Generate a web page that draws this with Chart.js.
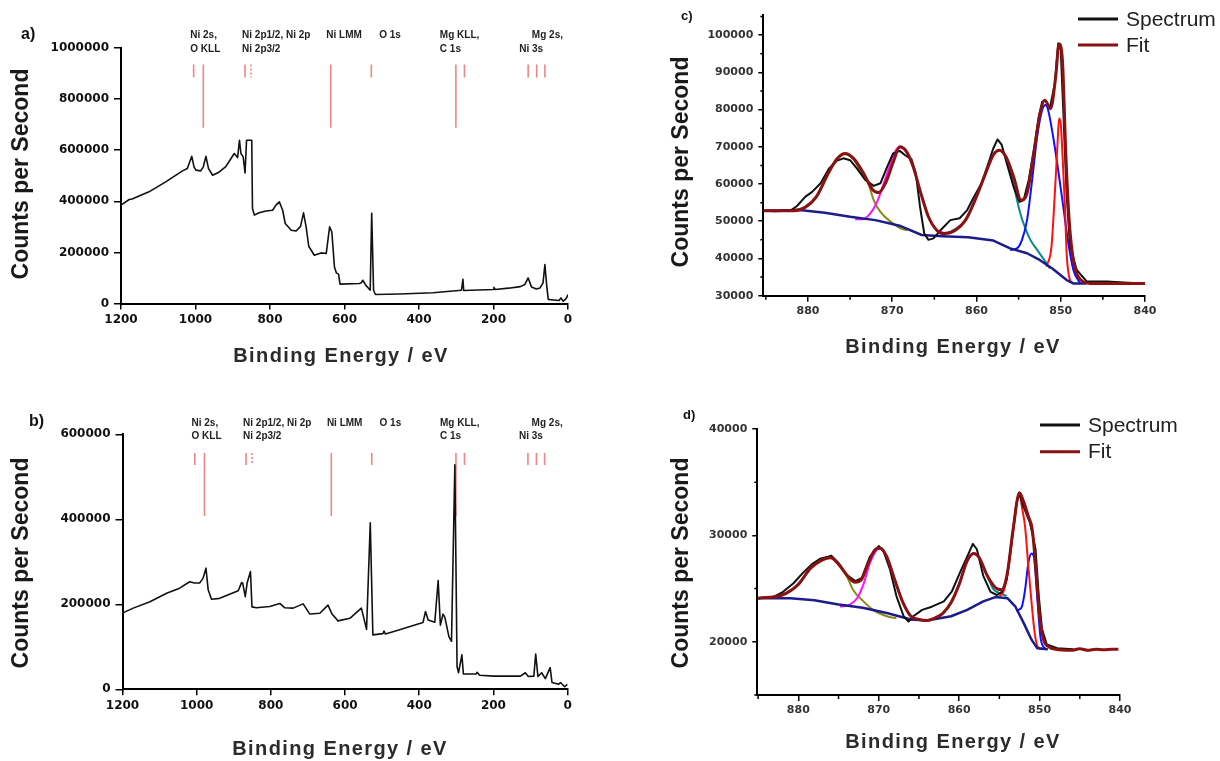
<!DOCTYPE html>
<html>
<head>
<meta charset="utf-8">
<title>XPS survey and Ni 2p spectra</title>
<script src="https://cdn.jsdelivr.net/npm/chart.js@4.4.1/dist/chart.umd.min.js"></script>
<style>
  html, body { margin: 0; padding: 0; background: #fff; }
  body { position: relative; width: 1220px; height: 761px; overflow: hidden; }
  canvas { position: absolute; }
</style>
</head>
<body>
<canvas id="panelA" width="600" height="385" style="left:0px;top:0px;width:600px;height:385px"></canvas>
<canvas id="panelB" width="600" height="376" style="left:0px;top:385px;width:600px;height:376px"></canvas>
<canvas id="panelC" width="600" height="385" style="left:620px;top:0px;width:600px;height:385px"></canvas>
<canvas id="panelD" width="600" height="376" style="left:620px;top:385px;width:600px;height:376px"></canvas>
<script>
// ---- tick labels ----
const surveyEnergyTicks = [1200, 1000, 800, 600, 400, 200, 0];
const surveyCountTicksA = [0, 200000, 400000, 600000, 800000, 1000000];
const surveyCountTicksB = [0, 200000, 400000, 600000];
const ni2pEnergyTicks = [880, 870, 860, 850, 840];
const ni2pCountTicksC = [30000, 40000, 50000, 60000, 70000, 80000, 90000, 100000];
const ni2pCountTicksD = [20000, 30000, 40000];

// ---- survey spectra: [binding energy (eV), counts per second] ----
const surveyA = [
  [1200,385000],[1178,407000],[1170,409000],[1125,437000],[1080,476000],[1035,519000],[1022,528000],
  [1010,576000],[1004,535000],[999,522000],[986,519000],[979,535000],[972,576000],[965,528000],
  [954,502000],[936,515000],[918,537000],[896,587000],[887,571000],[882,639000],[878,587000],
  [872,574000],[867,511000],[863,639000],[849,639000],[847,372000],[842,346000],[829,355000],
  [811,362000],[793,365000],[784,385000],[775,398000],[766,365000],[759,313000],[743,287000],
  [730,284000],[718,302000],[710,355000],[703,300000],[696,224000],[681,189000],[663,198000],
  [649,196000],[640,300000],[634,280000],[627,143000],[622,120000],[616,115000],[612,76000],
  [560,78000],[555,81000],[551,91000],[543,72000],[535,59000],[531,52000],[527,353000],[522,52000],
  [517,35000],[452,37000],[362,42000],[286,52000],[282,95000],[280,51000],[201,55000],[199,63000],
  [195,55000],[160,60000],[128,66000],[116,74000],[107,100000],[98,65000],[85,57000],[75,61000],
  [67,81000],[62,152000],[57,68000],[53,16000],[40,14000],[24,12000],[19,22000],[13,9000],
  [8,15000],[4,22000],[0,35000]
];
const surveyB = [
  [1200,178000],[1196,181000],[1171,191000],[1126,206000],[1081,226000],[1046,238000],[1019,253000],
  [1006,250000],[992,250000],[983,261000],[975,285000],[969,234000],[960,212000],[938,214000],
  [888,232000],[879,251000],[876,250000],[869,218000],[864,250000],[855,277000],[851,194000],
  [839,192000],[803,195000],[776,202000],[763,192000],[740,191000],[713,201000],[695,177000],
  [668,179000],[646,198000],[635,177000],[619,161000],[587,167000],[556,191000],[542,141000],
  [532,392000],[525,128000],[498,131000],[495,137000],[491,130000],[453,140000],[390,157000],
  [383,183000],[376,163000],[358,158000],[349,256000],[343,151000],[336,177000],[331,170000],
  [320,124000],[313,113000],[304,528000],[298,53000],[294,39000],[285,81000],[281,36000],
  [246,36000],[244,40000],[237,33000],[199,31000],[127,31000],[114,39000],[106,30000],[91,31000],
  [86,83000],[80,30000],[70,39000],[60,25000],[47,51000],[42,16000],[24,12000],[19,16000],
  [8,6000],[0,12000]
];

// reference line energies (eV) for the survey panels; long = tall marker, dashed = dotted marker
const markerEnergies = [1005, 979, 867, 851, 637, 528, 301, 278, 107, 84, 62];
const markerLong     = [false, true, false, false, true, false, true, false, false, false, false];
const markerDashed   = [false, false, false, true, false, false, false, false, false, false, false];

// peak names: [text, energy of left edge (eV), row]
const peakNames = [
  ['Ni 2s,', 1014, 0], ['O KLL', 1014, 1],
  ['Ni 2p1/2, Ni 2p', 875, 0], ['Ni 2p3/2', 875, 1],
  ['Ni LMM', 649, 0],
  ['O 1s', 507, 0],
  ['Mg KLL,', 344, 0], ['C 1s', 344, 1],
  ['Mg 2s,', 97, 0], ['Ni 3s', 131, 1]
];

// ---- Ni 2p region, panel c ----
const spectrumC = [
  [885.3,52800],[884,52700],[882.1,52800],[881.3,54100],[880.3,56600],[879.5,57900],[878.5,60200],
  [877.5,64200],[876.6,66200],[875.8,66900],[875.0,66400],[874.2,64200],[873.2,61100],[872.2,59500],
  [871.4,60200],[870.6,64600],[869.9,68200],[869.1,68900],[868.5,67800],[867.7,66600],[867.2,62800],
  [866.7,53900],[866.2,46700],[865.7,45000],[865.1,45400],[864.3,47500],[863.1,50300],[862.0,50800],
  [861.1,53000],[860.4,56100],[859.4,60200],[858.6,65500],[858.0,69600],[857.5,72000],[857.0,70500],
  [856.4,65500],[855.6,59300],[854.9,55200],[854.4,55700],[853.8,61100],[853.2,69100],[852.6,78100],
  [852.2,82100],[851.8,82400],[851.3,80300],[850.7,87000],[850.3,97800],[850.0,96000],[849.7,79900],
  [849.3,57500],[848.9,43200],[848.1,36900],[846.9,33800],[844.5,33800],[842,33500],[840,33300]
];
const fitC = [
  [885.3,52800],[882,52800],[880.3,53800],[879,56600],[877.5,63300],[876.5,66900],[875.6,68200],
  [874.6,66900],[873.5,63300],[872.3,58400],[871.6,57700],[870.8,60200],[869.8,66400],[869.1,70000],
  [868.3,68700],[867.5,64600],[866.6,57500],[865.7,51200],[864.7,47600],[863.8,46700],[862.5,47600],
  [861.3,50300],[860.0,56600],[859.0,62400],[858.0,67800],[857.3,69100],[856.5,67300],[855.6,62000],
  [854.7,55700],[854.0,57500],[853.2,68200],[852.5,78500],[851.9,82500],[851.2,80300],[850.6,88800],
  [850.2,97600],[849.8,93300],[849.4,68200],[849.0,50300],[848.5,39600],[847.6,34200],[846.5,33300],
  [840,33300]
];
const baselineC = [
  [885.3,52800],[881,53000],[878,52300],[875,51200],[872,50300],[869,48700],[866.5,46300],[864,46000],
  [861,45700],[858,44800],[856,42700],[854,41400],[852.5,39600],[851,37300],[849.3,34200],[848.5,33300],
  [847,33300]
];
const satC1 = [
  [882,52900],[880.3,53800],[879,56400],[877.5,63000],[876.5,66700],[875.6,68000],[874.6,66600],
  [873.5,62500],[873.0,61200],[872.2,55700],[871.4,52500],[870.2,49900],[868.7,47800],[868.2,47600]
];
const p12C = [
  [874.4,50500],[873.4,50600],[872.6,52100],[871.8,55200],[871.0,60200],[870.2,65500],[869.4,69600],
  [869.1,69800],[868.3,68500],[867.5,64500],[866.6,57500],[865.7,51200],[864.8,47600],[864.0,46300]
];
const satC2 = [
  [864,46400],[863,47300],[861.3,50300],[860,56600],[859,62400],[858,67800],[857.3,69100],[856.5,67300],
  [855.6,59700],[854.8,52100],[854.2,48100],[853.6,45000],[852.8,42300],[851.8,39100],[851.3,37300]
];
const p32C = [
  [856.0,42300],[855.2,42700],[854.6,45000],[854.0,50300],[853.4,61000],[852.8,72700],[852.2,79900],
  [851.8,81200],[851.5,79900],[850.9,72700],[850.3,63700],[849.7,53900],[849.1,44100],[848.5,36900],
  [847.7,33300]
];
const metalC = [
  [851.7,37800],[851.1,43200],[850.7,57500],[850.4,70000],[850.2,77600],[850.0,76300],[849.8,68200],
  [849.5,53900],[849.3,41400],[848.9,34200],[848.5,33300]
];

// ---- Ni 2p region, panel d ----
const spectrumD = [
  [885,24100],[883.1,24200],[881.9,24700],[880.6,25500],[879.4,26500],[878.3,27300],[877.3,27800],
  [876.3,28000],[875.9,28100],[875.0,27400],[874.0,26300],[872.9,25700],[872.1,26000],[871.1,28000],
  [870.0,29000],[869.4,28500],[868.6,26800],[867.8,24300],[866.9,22400],[866.3,21900],[865.7,22400],
  [864.6,23000],[863.4,23300],[861.9,23800],[860.9,24750],[859.9,26500],[859.0,28000],[858.3,29200],
  [857.8,28700],[857.0,26200],[856.1,24700],[855.3,24400],[854.7,24700],[854.1,25800],[853.4,29900],
  [852.9,33000],[852.5,33900],[852.0,32700],[851.2,31200],[850.5,28700],[850.1,24300],[849.7,21200],
  [849.1,19750],[847.8,19400],[845.8,19300]
];
const fitD = [
  [885,24100],[882,24400],[880,25400],[878.5,26900],[877,27700],[876,27900],[875,27300],[874,26300],
  [873,25600],[872.2,25800],[871.3,27400],[870.4,28700],[869.8,28800],[869,28000],[868,25800],
  [867,23700],[866,22400],[865,22100],[864,22000],[863,22250],[862,22700],[861,23700],[860,25400],
  [859,27600],[858.2,28300],[857.5,27900],[856.5,26200],[855.5,25100],[854.7,24900],[854,26500],
  [853.3,30500],[852.5,34000],[852.0,33200],[851.4,31800],[850.9,30500],[850.4,26200],[850.0,22400],
  [849.5,20200],[848.8,19500],[848,19300],[846,19200],[845,19350],[844,19200],[843,19300],[842,19250],
  [841,19300],[840.2,19300]
];
const baselineD = [
  [885,24100],[881,24100],[878,23900],[875,23500],[872,23200],[869,22700],[866,22100],[864,22000],
  [861,22400],[859,23000],[857,23800],[855.5,24200],[854,24100],[853,23300],[852,21800],[851,20200],
  [850.3,19400],[849,19300]
];
const satD1 = [
  [883,24300],[881.5,24600],[880,25400],[878.5,26900],[877,27700],[876,27900],[875,27300],[874,26200],
  [873.2,24900],[871.9,23800],[870.7,23000],[869,22400],[867.8,22200]
];
const p12D = [
  [874.8,23300],[873.6,23500],[872.7,24100],[871.9,25400],[871.1,27400],[870.2,28700],[869.9,28800],
  [869,28000],[868,25800],[867,23700],[866,22400],[865.3,22100]
];
const satD2 = [
  [862,22700],[861,23700],[860,25400],[859,27600],[858.2,28300],[857.5,27900],[856.5,26200],
  [855.7,24900],[855,24600],[854.1,24300]
];
const p32D = [
  [852.8,22800],[852.6,23000],[852.2,23300],[851.8,24900],[851.4,27400],[851.0,28300],[850.7,28000],
  [850.3,24300],[849.9,20500],[849.5,19500],[849,19300]
];
const metalD = [
  [855,24300],[854.5,24700],[854,26300],[853.3,30300],[852.8,33200],[852.5,34000],[852.2,32700],
  [851.8,30800],[851.4,27100],[851.0,23700],[850.6,20800],[850.2,19500],[849.5,19300]
];

const SANS = '"Liberation Sans", Arial, sans-serif';
const TICK_FONT = '"DejaVu Sans", Verdana, sans-serif';
Chart.defaults.font.family = SANS;

// titles, panel letter, peak names, legend and minor ticks
const figureText = {
  id: 'figureText',
  afterDraw(chart, args, o) {
    const ctx = chart.ctx;
    const xs = chart.scales.x, ys = chart.scales.y;
    ctx.save();

    // minor ticks halfway between the labelled ones
    if (o.minor) {
      ctx.strokeStyle = '#000';
      ctx.lineWidth = 1.5;
      ctx.beginPath();
      for (let v = Math.ceil(xs.min / o.minor.x) * o.minor.x; v <= xs.max; v += o.minor.x) {
        if (v % (2 * o.minor.x) === 0) continue;
        const px = xs.getPixelForValue(v);
        ctx.moveTo(px, xs.top); ctx.lineTo(px, xs.top + 4);
      }
      for (let v = Math.ceil(ys.min / o.minor.y) * o.minor.y; v <= ys.max; v += o.minor.y) {
        if (v % (2 * o.minor.y) === 0) continue;
        const py = ys.getPixelForValue(v);
        ctx.moveTo(ys.right, py); ctx.lineTo(ys.right - 3, py);
      }
      ctx.stroke();
    }

    ctx.fillStyle = '#111';
    ctx.textBaseline = 'middle';

    // panel letter
    ctx.textAlign = 'left';
    ctx.font = o.letterFont;
    ctx.fillText(o.letter, o.letterAt[0], o.letterAt[1]);

    // peak names above the survey plots
    if (o.peakRows) {
      ctx.font = 'bold 10px ' + SANS;
      ctx.fillStyle = '#222';
      peakNames.forEach(([text, e, row]) => {
        ctx.fillText(text, xs.getPixelForValue(e), o.peakRows[row]);
      });
    }

    // x title, letter spaced
    ctx.fillStyle = '#2b2b2b';
    ctx.textAlign = 'center';
    ctx.font = 'bold 20px ' + SANS;
    ctx.letterSpacing = '1.4px';
    ctx.fillText('Binding Energy / eV', o.xTitleAt[0], o.xTitleAt[1]);
    ctx.letterSpacing = '0px';

    // legend
    if (o.legend) {
      const items = chart.data.datasets.filter(d => d.legendLabel);
      ctx.font = '21px ' + SANS;
      ctx.textAlign = 'left';
      items.forEach((d, i) => {
        const y = o.legend.y + i * o.legend.step;
        ctx.strokeStyle = d.borderColor;
        ctx.lineWidth = 3;
        ctx.beginPath();
        ctx.moveTo(o.legend.x, y); ctx.lineTo(o.legend.x + 40, y);
        ctx.stroke();
        ctx.fillStyle = '#222';
        ctx.fillText(d.legendLabel, o.legend.x + 48, y + 1);
      });
    }

    // y title
    ctx.fillStyle = '#1a1a1a';
    ctx.textAlign = 'center';
    ctx.font = 'bold 23px ' + SANS;
    ctx.translate(o.yTitleAt[0], o.yTitleAt[1]);
    ctx.rotate(-Math.PI / 2);
    ctx.fillText('Counts per Second', 0, 0);
    ctx.restore();
  }
};

function curve(points, color, width, extra) {
  return Object.assign({
    data: points.map(p => ({ x: p[0], y: p[1] })),
    borderColor: color,
    borderWidth: width,
    pointRadius: 0,
    fill: false,
    tension: 0,
    borderJoinStyle: 'round'
  }, extra || {});
}

function markerSets(top, shortEnd, longEnd) {
  return markerEnergies.map((e, i) => ({
    data: [{ x: e, y: top }, { x: e, y: markerLong[i] ? longEnd : shortEnd }],
    borderColor: '#ef8585',
    borderWidth: 1.6,
    borderDash: markerDashed[i] ? [2, 2] : [],
    pointRadius: 0,
    fill: false
  }));
}

function axis(o) {
  return {
    type: 'linear',
    reverse: !!o.reverse,
    min: o.min,
    max: o.max,
    afterFit: o.fit,
    afterBuildTicks: s => { s.ticks = o.values.map(v => ({ value: v })); },
    ticks: {
      autoSkip: false,
      maxRotation: 0,
      padding: o.pad,
      color: o.color,
      font: { family: TICK_FONT, size: o.size, weight: 'bold' },
      callback: v => String(v)
    },
    grid: { drawOnChartArea: false, drawTicks: true, tickLength: o.tick, color: '#000', lineWidth: 1.5 },
    border: { display: true, color: '#000', width: 2 }
  };
}

function panel(id, area, height, x, y, datasets, text) {
  return new Chart(document.getElementById(id), {
    type: 'line',
    data: { datasets },
    plugins: [figureText],
    options: {
      responsive: false,
      animation: false,
      events: [],
      layout: { padding: { left: 0, top: area.top, right: 600 - area.right, bottom: 0 } },
      scales: {
        x: axis(Object.assign({ reverse: true, fit: s => { s.height = height - area.bottom; } }, x)),
        y: axis(Object.assign({ fit: s => { s.width = area.left; } }, y))
      },
      plugins: {
        legend: { display: false },
        tooltip: { enabled: false },
        figureText: text
      }
    }
  });
}

// a) survey, first sample
panel('panelA', { left: 121, top: 48, right: 568, bottom: 303.5 }, 385,
  { min: 0, max: 1200, values: surveyEnergyTicks, tick: 6, pad: 3, size: 12, color: '#111' },
  { min: 0, max: 1000000, values: surveyCountTicksA, tick: 7, pad: 5, size: 12, color: '#111' },
  [curve(surveyA, '#111', 1.6)].concat(markerSets(935000, 885000, 688000)),
  { letter: 'a)', letterFont: 'bold 16px ' + SANS, letterAt: [21, 35],
    xTitleAt: [341, 356], yTitleAt: [22, 174], peakRows: [35.7, 49] });

// b) survey, second sample
panel('panelB', { left: 122.5, top: 49.3, right: 567.6, bottom: 304.3 }, 376,
  { min: 0, max: 1200, values: surveyEnergyTicks, tick: 6, pad: 3, size: 12, color: '#111' },
  { min: 0, max: 600000, values: surveyCountTicksB, tick: 7, pad: 5, size: 12, color: '#111' },
  [curve(surveyB, '#111', 1.6)].concat(markerSets(556000, 528000, 408000)),
  { letter: 'b)', letterFont: 'bold 16px ' + SANS, letterAt: [29, 37],
    xTitleAt: [340, 364], yTitleAt: [22, 178], peakRows: [38.3, 51.7] });

// c) Ni 2p, first sample
panel('panelC', { left: 143.3, top: 15, right: 525, bottom: 295.7 }, 385,
  { min: 840, max: 885.3, values: ni2pEnergyTicks, tick: 6, pad: 3, size: 11, color: '#333' },
  { min: 30000, max: 105400, values: ni2pCountTicksC, tick: 5, pad: 5, size: 11, color: '#333' },
  [
    curve(fitC, '#8b1212', 3, { legendLabel: 'Fit', cubicInterpolationMode: 'monotone' }),
    curve(spectrumC, '#111', 2, { legendLabel: 'Spectrum' }),
    curve(baselineC, '#1c1c8a', 2.5),
    curve(metalC, '#ff1010', 2, { cubicInterpolationMode: 'monotone' }),
    curve(p32C, '#1010ff', 2, { cubicInterpolationMode: 'monotone' }),
    curve(satC2, '#0a8a8a', 2, { cubicInterpolationMode: 'monotone' }),
    curve(p12C, '#ff10ff', 2, { cubicInterpolationMode: 'monotone' }),
    curve(satC1, '#8a8a1a', 2, { cubicInterpolationMode: 'monotone' })
  ],
  { letter: 'c)', letterFont: 'bold 13px ' + SANS, letterAt: [61, 16],
    xTitleAt: [333, 347], yTitleAt: [62, 162], minor: { x: 5, y: 5000 },
    legend: { x: 458, y: 45, step: -26 } });

// d) Ni 2p, second sample
panel('panelD', { left: 137.3, top: 44, right: 500, bottom: 310 }, 376,
  { min: 840, max: 885.1, values: ni2pEnergyTicks, tick: 6, pad: 3, size: 11, color: '#333' },
  { min: 15000, max: 40000, values: ni2pCountTicksD, tick: 5, pad: 5, size: 11, color: '#333' },
  [
    curve(fitD, '#8b1212', 3, { legendLabel: 'Fit', cubicInterpolationMode: 'monotone' }),
    curve(spectrumD, '#111', 2, { legendLabel: 'Spectrum' }),
    curve(baselineD, '#1c1c8a', 2.5),
    curve(metalD, '#ff1010', 2, { cubicInterpolationMode: 'monotone' }),
    curve(p32D, '#1010ff', 2, { cubicInterpolationMode: 'monotone' }),
    curve(satD2, '#0a8a8a', 2, { cubicInterpolationMode: 'monotone' }),
    curve(p12D, '#ff10ff', 2, { cubicInterpolationMode: 'monotone' }),
    curve(satD1, '#8a8a1a', 2, { cubicInterpolationMode: 'monotone' })
  ],
  { letter: 'd)', letterFont: 'bold 13px ' + SANS, letterAt: [63, 30],
    xTitleAt: [333, 357], yTitleAt: [62, 178], minor: { x: 5, y: 5000 },
    legend: { x: 420, y: 66.7, step: -26.7 } });
</script>
</body>
</html>
